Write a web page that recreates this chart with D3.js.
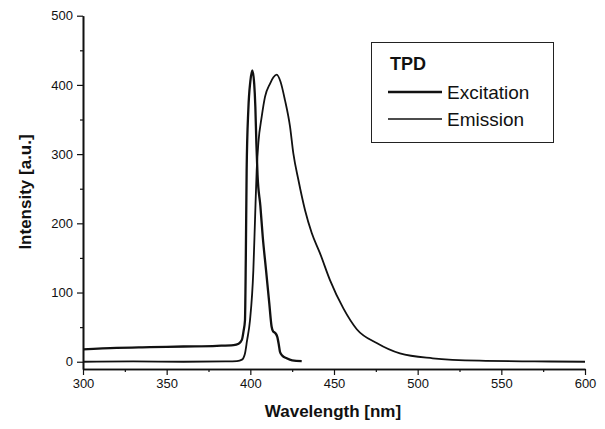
<!DOCTYPE html>
<html>
<head>
<meta charset="utf-8">
<script src="https://cdn.jsdelivr.net/npm/d3@7"></script>
<style>
  body { margin: 0; background: #fff; }
  text { font-family: "Liberation Sans", Arial, sans-serif; fill: #111; }
</style>
</head>
<body>
<div id="chart"></div>
<script>
// data: [wavelength nm, intensity a.u.]
var excitation = [
  [300, 18], [320, 20], [340, 21], [360, 22], [380, 23], [390, 24], [393, 26],
  [395, 32], [396, 45], [396.8, 60], [397.3, 150], [397.8, 277], [398.8, 364],
  [400, 405], [401.2, 421], [402.3, 402], [403, 368], [403.6, 316], [404.3, 270],
  [406, 225], [407.4, 181], [409.4, 132], [411.3, 85], [412.7, 51], [413.6, 44],
  [414.7, 42], [416.1, 36], [417, 25], [417.7, 14.5], [419, 9], [421.7, 5],
  [425, 2], [430.7, 1]
];
var emission = [
  [300, 0], [330, 0.5], [360, 0], [385, 0.5], [392, 1], [395, 3], [396.8, 12],
  [398, 30], [399.8, 60], [401.8, 132], [402.8, 205], [403.8, 277], [404.8, 316],
  [406.8, 354], [408.8, 383], [411.8, 402], [413.8, 411], [415.8, 415],
  [418, 405], [420.7, 378], [423.7, 340], [425.7, 301], [428.7, 263],
  [432.7, 219], [436.7, 186], [441.6, 157], [447.6, 118], [455.6, 77],
  [463.6, 47], [475.5, 27], [489.4, 12], [509, 5], [537, 1.5], [570, 0.5], [600, 0]
];
var xTicks = [300, 350, 400, 450, 500, 550, 600];
var xMinor = [325, 375, 425, 475, 525, 575];
var yTicks = [0, 100, 200, 300, 400, 500];
var yMinor = [50, 150, 250, 350, 450];
var legendItems = ["Excitation", "Emission"];

var width = 605,
    height = 429;

var x = d3.scaleLinear().domain([300, 600]).range([83, 585]);
var y = d3.scaleLinear().domain([-10.5, 500]).range([369, 15.7]);

var svg = d3.select("#chart").append("svg")
    .attr("width", width)
    .attr("height", height);

// axes
svg.append("g")
    .attr("transform", "translate(0," + y(-10.5) + ")")
    .call(d3.axisBottom(x).tickValues(xTicks).tickSize(6).tickPadding(4).tickSizeOuter(0));
svg.append("g")
    .attr("transform", "translate(0," + y(-10.5) + ")")
    .call(d3.axisBottom(x).tickValues(xMinor).tickSize(3).tickFormat("").tickSizeOuter(0));

svg.append("g")
    .attr("transform", "translate(" + x(300) + ",0)")
    .call(d3.axisLeft(y).tickValues(yTicks).tickSize(6).tickPadding(4).tickSizeOuter(0));
svg.append("g")
    .attr("transform", "translate(" + x(300) + ",0)")
    .call(d3.axisLeft(y).tickValues(yMinor).tickSize(3).tickFormat("").tickSizeOuter(0));

svg.selectAll(".domain").attr("stroke", "#111").attr("stroke-width", 1.6);
svg.selectAll(".tick line").attr("stroke", "#111").attr("stroke-width", 1.2);
svg.selectAll(".tick text")
    .style("font-family", "'Liberation Sans', Arial, sans-serif")
    .style("font-size", "13px")
    .attr("fill", "#111");

// axis titles
svg.append("text")
    .attr("x", 333)
    .attr("y", 417)
    .attr("text-anchor", "middle")
    .style("font-size", "17px")
    .style("font-weight", "bold")
    .text("Wavelength [nm]");

svg.append("text")
    .attr("transform", "translate(31,192) rotate(-90)")
    .attr("text-anchor", "middle")
    .style("font-size", "17px")
    .style("font-weight", "bold")
    .text("Intensity [a.u.]");

// curves
var line = d3.line()
    .x(function(d) { return x(d[0]); })
    .y(function(d) { return y(d[1]); })
    .curve(d3.curveMonotoneX);

svg.append("path")
    .datum(emission)
    .attr("d", line)
    .attr("fill", "none")
    .attr("stroke", "#111")
    .attr("stroke-width", 1.8);

svg.append("path")
    .datum(excitation)
    .attr("d", line)
    .attr("fill", "none")
    .attr("stroke", "#111")
    .attr("stroke-width", 2.3);

// legend
var legend = svg.append("g");
legend.append("rect")
    .attr("x", 371.5).attr("y", 42.5)
    .attr("width", 182).attr("height", 100)
    .attr("fill", "#fff")
    .attr("stroke", "#222")
    .attr("stroke-width", 1);

legend.append("text")
    .attr("x", 390).attr("y", 70)
    .style("font-size", "18px")
    .style("font-weight", "bold")
    .text("TPD");

var widths = [2.3, 1.6];
legendItems.forEach(function(name, i) {
  var ly = 92 + i * 27;
  legend.append("line")
      .attr("x1", 388).attr("x2", 442)
      .attr("y1", ly).attr("y2", ly)
      .attr("stroke", "#111")
      .attr("stroke-width", widths[i]);
  legend.append("text")
      .attr("x", 447).attr("y", ly + 7)
      .style("font-size", "19px")
      .text(name);
});
</script>
</body>
</html>
